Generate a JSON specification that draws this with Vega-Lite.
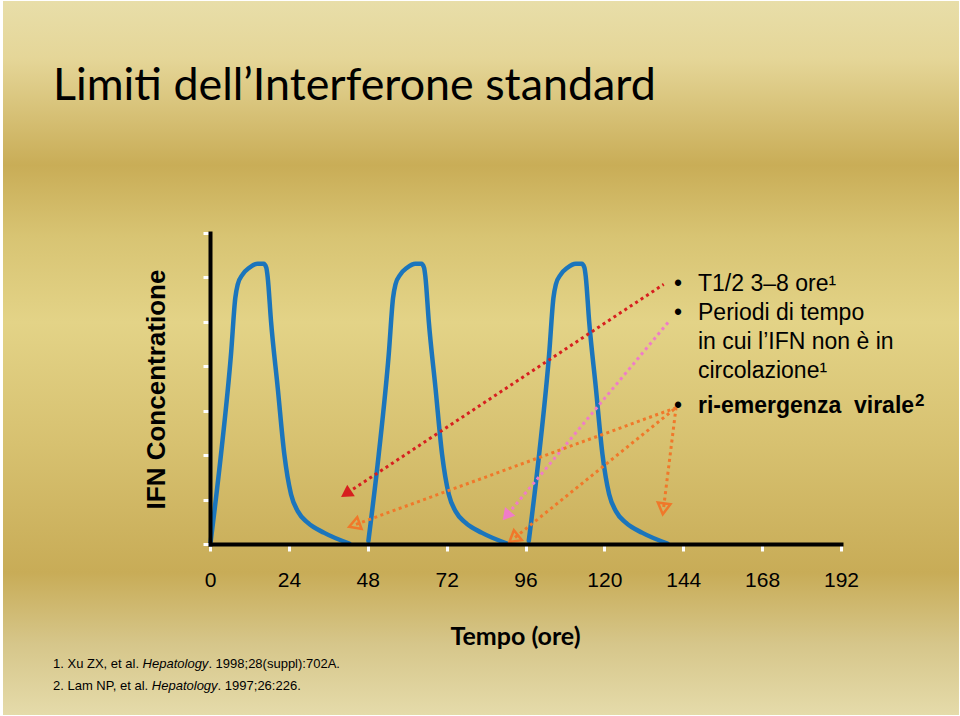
{
  "$schema": "https://vega.github.io/schema/vega-lite/v6.json",
  "width": 631,
  "height": 311,
  "padding": {"left": 2, "right": 2, "top": 0, "bottom": 2},
  "background": "#ffffff",
  "config": {"view": {"stroke": null}},
  "data": {"values": [{}]},
  "datasets": {
    "peaks": [
      {"peak": "1", "h": 0.2, "v": 0.05}, {"peak": "1", "h": 3.35, "v": 2.02}, {"peak": "1", "h": 6.39, "v": 4.27}, {"peak": "1", "h": 7.7, "v": 5.54}, {"peak": "1", "h": 8.43, "v": 5.84}, {"peak": "1", "h": 9.95, "v": 6.07}, {"peak": "1", "h": 11.96, "v": 6.22}, {"peak": "1", "h": 14.51, "v": 6.31}, {"peak": "1", "h": 16.34, "v": 6.31}, {"peak": "1", "h": 17.13, "v": 6.22}, {"peak": "1", "h": 17.56, "v": 6.0}, {"peak": "1", "h": 18.56, "v": 5.02}, {"peak": "1", "h": 20.6, "v": 3.52}, {"peak": "1", "h": 22.61, "v": 2.02}, {"peak": "1", "h": 24.65, "v": 1.12}, {"peak": "1", "h": 26.69, "v": 0.74}, {"peak": "1", "h": 29.73, "v": 0.48}, {"peak": "1", "h": 34.78, "v": 0.25}, {"peak": "1", "h": 42.39, "v": 0.01},
      {"peak": "2", "h": 48.2, "v": 0.07}, {"peak": "2", "h": 51.35, "v": 2.02}, {"peak": "2", "h": 54.39, "v": 4.27}, {"peak": "2", "h": 55.7, "v": 5.54}, {"peak": "2", "h": 56.43, "v": 5.84}, {"peak": "2", "h": 57.95, "v": 6.07}, {"peak": "2", "h": 59.96, "v": 6.22}, {"peak": "2", "h": 62.51, "v": 6.31}, {"peak": "2", "h": 64.34, "v": 6.31}, {"peak": "2", "h": 65.13, "v": 6.22}, {"peak": "2", "h": 65.56, "v": 6.0}, {"peak": "2", "h": 66.56, "v": 5.02}, {"peak": "2", "h": 68.6, "v": 3.52}, {"peak": "2", "h": 70.61, "v": 2.02}, {"peak": "2", "h": 72.65, "v": 1.12}, {"peak": "2", "h": 74.69, "v": 0.74}, {"peak": "2", "h": 77.73, "v": 0.48}, {"peak": "2", "h": 82.78, "v": 0.25}, {"peak": "2", "h": 90.39, "v": 0.01},
      {"peak": "3", "h": 97.0, "v": 0.07}, {"peak": "3", "h": 100.15, "v": 2.02}, {"peak": "3", "h": 103.19, "v": 4.27}, {"peak": "3", "h": 104.5, "v": 5.54}, {"peak": "3", "h": 105.23, "v": 5.84}, {"peak": "3", "h": 106.75, "v": 6.07}, {"peak": "3", "h": 108.76, "v": 6.22}, {"peak": "3", "h": 111.31, "v": 6.31}, {"peak": "3", "h": 113.14, "v": 6.31}, {"peak": "3", "h": 113.93, "v": 6.22}, {"peak": "3", "h": 114.36, "v": 6.0}, {"peak": "3", "h": 115.36, "v": 5.02}, {"peak": "3", "h": 117.4, "v": 3.52}, {"peak": "3", "h": 119.41, "v": 2.02}, {"peak": "3", "h": 121.45, "v": 1.12}, {"peak": "3", "h": 123.49, "v": 0.74}, {"peak": "3", "h": 126.53, "v": 0.48}, {"peak": "3", "h": 131.58, "v": 0.25}, {"peak": "3", "h": 139.19, "v": 0.01}
    ],
    "arrows": [
      {"id": "A", "pt": "start", "h": 138.05, "v": 5.845}, {"id": "A", "pt": "tip", "h": 41.9, "v": 1.155},
      {"id": "B", "pt": "start", "h": 139.76, "v": 5.019}, {"id": "B", "pt": "tip", "h": 90.58, "v": 0.668},
      {"id": "C1", "pt": "start", "h": 141.8, "v": 3.068}, {"id": "C1", "pt": "tip", "h": 44.42, "v": 0.443},
      {"id": "C2", "pt": "start", "h": 141.8, "v": 3.068}, {"id": "C2", "pt": "tip", "h": 92.81, "v": 0.146},
      {"id": "C3", "pt": "start", "h": 141.8, "v": 3.068}, {"id": "C3", "pt": "tip", "h": 138.05, "v": 0.833}
    ]
  },
  "layer": [
    {
      "mark": {"type": "rect", "color": {"gradient": "linear", "x1": 0, "y1": 0, "x2": 0, "y2": 1, "stops": [
        {"offset": 0, "color": "#e8dea9"}, {"offset": 0.08, "color": "#e5d698"}, {"offset": 0.23, "color": "#c9ad57"}, {"offset": 0.33, "color": "#d8c473"}, {"offset": 0.45, "color": "#e3d387"}, {"offset": 0.62, "color": "#d7c170"}, {"offset": 0.8, "color": "#c8ac57"}, {"offset": 0.9, "color": "#d6c68a"}, {"offset": 1, "color": "#e5dbaa"}]}},
      "encoding": {"x": {"datum": -62.986}, "x2": {"datum": 227.902}, "y": {"datum": 12.2219}, "y2": {"datum": -3.8489}}
    },
    {
      "data": {"name": "peaks"},
      "mark": {"type": "line", "interpolate": "monotone", "color": "#1b75bc", "strokeWidth": 4.5, "strokeCap": "round"},
      "encoding": {
        "x": {"field": "h", "type": "quantitative", "title": "Tempo (ore)", "scale": {"domain": [0, 192], "nice": false, "zero": false},
          "axis": {"values": [0, 24, 48, 72, 96, 120, 144, 168, 192], "grid": false, "domainColor": "#000000", "domainWidth": 4, "domainCap": "square", "tickColor": "#ffffff", "tickWidth": 3, "tickSize": 7, "labelFont": "Liberation Sans", "labelFontSize": 21, "labelColor": "#000000", "labelBaseline": "alphabetic", "labelPadding": 35, "labelFlush": false, "labelOverlap": false, "labelBound": false, "format": "d", "titleFont": "Lato", "titleFontSize": 25, "titleFontWeight": "bold", "titleColor": "#000000", "titleX": 305, "titleY": 100, "titleBaseline": "alphabetic", "titleAlign": "center", "zindex": 1}},
        "y": {"field": "v", "type": "quantitative", "title": "IFN Concentratione", "scale": {"domain": [0, 7], "nice": false},
          "axis": {"values": [0, 1, 2, 3, 4, 5, 6, 7], "grid": false, "labels": false, "domainColor": "#000000", "domainWidth": 4, "domainCap": "square", "tickColor": "#ffffff", "tickWidth": 3, "tickSize": 7, "titleFont": "Liberation Sans", "titleFontSize": 26, "titleFontWeight": "bold", "titleColor": "#000000", "titleX": -46, "titleY": 156, "titleBaseline": "alphabetic", "titleAlign": "center", "titleAngle": -90, "zindex": 1}},
        "detail": {"field": "peak"}
      }
    },
    {
      "data": {"name": "arrows"},
      "mark": {"type": "line", "strokeWidth": 3, "strokeDash": [3, 3.5]},
      "encoding": {
        "x": {"field": "h", "type": "quantitative", "title": "Tempo (ore)"},
        "y": {"field": "v", "type": "quantitative", "title": "IFN Concentratione"},
        "detail": {"field": "id"},
        "color": {"field": "id", "type": "nominal", "scale": {"domain": ["A", "B", "C1", "C2", "C3"], "range": ["#d71f1f", "#f07cc8", "#f0782a", "#f0782a", "#f0782a"]}, "legend": null}
      }
    },
    {
      "data": {"name": "arrows"},
      "transform": [{"filter": "datum.id == 'A' && datum.pt == 'tip'"}],
      "mark": {"type": "point", "shape": "triangle", "angle": 236.6, "filled": true, "color": "#d71f1f", "size": 190, "opacity": 1},
      "encoding": {"x": {"field": "h", "type": "quantitative", "title": "Tempo (ore)"}, "y": {"field": "v", "type": "quantitative", "title": "IFN Concentratione"}}
    },
    {
      "data": {"name": "arrows"},
      "transform": [{"filter": "datum.id == 'B' && datum.pt == 'tip'"}],
      "mark": {"type": "point", "shape": "triangle", "angle": 219.9, "filled": true, "color": "#f07cc8", "size": 180, "opacity": 1},
      "encoding": {"x": {"field": "h", "type": "quantitative", "title": "Tempo (ore)"}, "y": {"field": "v", "type": "quantitative", "title": "IFN Concentratione"}}
    },
    {
      "data": {"name": "arrows"},
      "transform": [{"filter": "datum.id == 'C1' && datum.pt == 'tip'"}],
      "mark": {"type": "point", "shape": "triangle", "angle": 250, "filled": false, "color": "#f0782a", "strokeWidth": 2.5, "size": 160, "opacity": 1},
      "encoding": {"x": {"field": "h", "type": "quantitative", "title": "Tempo (ore)"}, "y": {"field": "v", "type": "quantitative", "title": "IFN Concentratione"}}
    },
    {
      "data": {"name": "arrows"},
      "transform": [{"filter": "datum.id == 'C2' && datum.pt == 'tip'"}],
      "mark": {"type": "point", "shape": "triangle", "angle": 231.1, "filled": false, "color": "#f0782a", "strokeWidth": 2.5, "size": 160, "opacity": 1},
      "encoding": {"x": {"field": "h", "type": "quantitative", "title": "Tempo (ore)"}, "y": {"field": "v", "type": "quantitative", "title": "IFN Concentratione"}}
    },
    {
      "data": {"name": "arrows"},
      "transform": [{"filter": "datum.id == 'C3' && datum.pt == 'tip'"}],
      "mark": {"type": "point", "shape": "triangle", "angle": 187.1, "filled": false, "color": "#f0782a", "strokeWidth": 2.5, "size": 160, "opacity": 1},
      "encoding": {"x": {"field": "h", "type": "quantitative", "title": "Tempo (ore)"}, "y": {"field": "v", "type": "quantitative", "title": "IFN Concentratione"}}
    },
    {
      "mark": {"type": "text", "text": "Limiti dell’Interferone standard", "font": "Lato", "fontSize": 44.8, "align": "left", "baseline": "alphabetic", "color": "#000000"},
      "encoding": {"x": {"datum": -47.77}, "y": {"datum": 9.994}}
    },
    {
      "mark": {"type": "text", "text": "•", "font": "Liberation Sans", "fontSize": 23, "align": "center", "baseline": "alphabetic", "color": "#000000"},
      "encoding": {"x": {"datum": 142.4}, "y": {"datum": 5.695}}
    },
    {
      "mark": {"type": "text", "text": "•", "font": "Liberation Sans", "fontSize": 23, "align": "center", "baseline": "alphabetic", "color": "#000000"},
      "encoding": {"x": {"datum": 142.4}, "y": {"datum": 5.042}}
    },
    {
      "mark": {"type": "text", "text": "•", "font": "Liberation Sans", "fontSize": 23, "align": "center", "baseline": "alphabetic", "color": "#000000"},
      "encoding": {"x": {"datum": 142.4}, "y": {"datum": 2.949}}
    },
    {
      "mark": {"type": "text", "text": "T1/2 3–8 ore¹", "font": "Liberation Sans", "fontSize": 23, "align": "left", "baseline": "alphabetic", "color": "#000000"},
      "encoding": {"x": {"datum": 148.49}, "y": {"datum": 5.695}}
    },
    {
      "mark": {"type": "text", "text": "Periodi di tempo", "font": "Liberation Sans", "fontSize": 23, "align": "left", "baseline": "alphabetic", "color": "#000000"},
      "encoding": {"x": {"datum": 148.49}, "y": {"datum": 5.042}}
    },
    {
      "mark": {"type": "text", "text": "in cui l’IFN non è in", "font": "Liberation Sans", "fontSize": 23, "align": "left", "baseline": "alphabetic", "color": "#000000"},
      "encoding": {"x": {"datum": 148.49}, "y": {"datum": 4.389}}
    },
    {
      "mark": {"type": "text", "text": "circolazione¹", "font": "Liberation Sans", "fontSize": 23, "align": "left", "baseline": "alphabetic", "color": "#000000"},
      "encoding": {"x": {"datum": 148.49}, "y": {"datum": 3.736}}
    },
    {
      "mark": {"type": "text", "text": "ri-emergenza\u00a0 virale", "font": "Liberation Sans", "fontSize": 23, "fontWeight": "bold", "align": "left", "baseline": "alphabetic", "color": "#000000"},
      "encoding": {"x": {"datum": 148.49}, "y": {"datum": 2.949}}
    },
    {
      "mark": {"type": "text", "text": "2", "font": "Liberation Sans", "fontSize": 17, "fontWeight": "bold", "align": "left", "baseline": "alphabetic", "color": "#000000"},
      "encoding": {"x": {"datum": 214.52}, "y": {"datum": 3.106}}
    },
    {
      "mark": {"type": "text", "text": "1. Xu ZX, et al.", "font": "Liberation Sans", "fontSize": 13, "align": "left", "baseline": "alphabetic", "color": "#000000"},
      "encoding": {"x": {"datum": -47.77}, "y": {"datum": -2.791}}
    },
    {
      "mark": {"type": "text", "text": "Hepatology", "font": "Liberation Sans", "fontSize": 13, "fontStyle": "italic", "align": "left", "baseline": "alphabetic", "color": "#000000"},
      "encoding": {"x": {"datum": -20.51}, "y": {"datum": -2.791}}
    },
    {
      "mark": {"type": "text", "text": ". 1998;28(suppl):702A.", "font": "Liberation Sans", "fontSize": 13, "align": "left", "baseline": "alphabetic", "color": "#000000"},
      "encoding": {"x": {"datum": -0.49}, "y": {"datum": -2.791}}
    },
    {
      "mark": {"type": "text", "text": "2. Lam NP, et al.", "font": "Liberation Sans", "fontSize": 13, "align": "left", "baseline": "alphabetic", "color": "#000000"},
      "encoding": {"x": {"datum": -47.77}, "y": {"datum": -3.286}}
    },
    {
      "mark": {"type": "text", "text": "Hepatology", "font": "Liberation Sans", "fontSize": 13, "fontStyle": "italic", "align": "left", "baseline": "alphabetic", "color": "#000000"},
      "encoding": {"x": {"datum": -17.7}, "y": {"datum": -3.286}}
    },
    {
      "mark": {"type": "text", "text": ". 1997;26:226.", "font": "Liberation Sans", "fontSize": 13, "align": "left", "baseline": "alphabetic", "color": "#000000"},
      "encoding": {"x": {"datum": 2.32}, "y": {"datum": -3.286}}
    }
  ]
}
